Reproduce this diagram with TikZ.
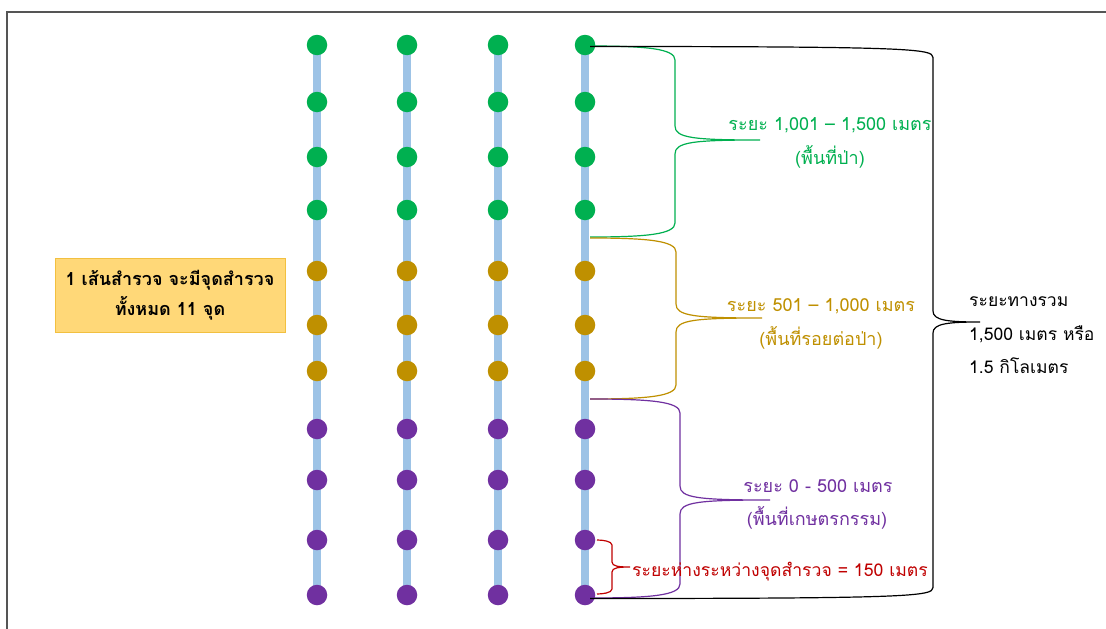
\documentclass[tikz,border=0pt]{standalone}
\usepackage{fontspec}
\setmainfont[Script=Thai]{Loma}
\usetikzlibrary{backgrounds}
\definecolor{tgreen}{HTML}{00B050}
\definecolor{tgold}{HTML}{BF9000}
\definecolor{tpurple}{HTML}{7030A0}
\definecolor{tred}{HTML}{C00000}
\definecolor{trail}{HTML}{9DC3E6}
\definecolor{tframe}{HTML}{555555}
\definecolor{boxfill}{HTML}{FFD878}
\definecolor{boxline}{HTML}{F2C040}
% brace: color, x0, y0, y1, xv, xtip, ymid, r
\newcommand\mybrace[8]{%
\draw[bracestyle,#1] (#2,#3) .. controls ({#5-2*#8},#3) and (#5,{#3+0.2*#8}) .. (#5,{#3+#8})
  -- (#5,{#7-#8}) .. controls (#5,{#7-0.15*#8}) and ({#5+1.3*#8},#7) .. (#6,#7)
  .. controls ({#5+1.3*#8},#7) and (#5,{#7+0.15*#8}) .. (#5,{#7+#8})
  -- (#5,{#4-#8}) .. controls (#5,{#4-0.2*#8}) and ({#5-2*#8},#4) .. (#2,#4);}
\begin{document}
\begin{tikzpicture}[x=1pt,y=-1pt,
  dot/.style={circle,inner sep=0pt,minimum size=20.5pt},
  rail/.style={trail,line width=8pt},
  bracestyle/.style={line width=1.2pt},
  lbl/.style={font=\fontsize{18}{22}\selectfont,inner sep=0pt,align=center},
  blk/.style={font=\fontsize{17.5}{22}\selectfont,inner sep=0pt,anchor=west}]
\useasboundingbox (0,0) rectangle (1106,629);
\begin{pgfonlayer}{background}
\fill[white] (0,0) rectangle (1106,629);
\end{pgfonlayer}
\draw[tframe,line width=1.5pt] (7,629) -- (7,12) -- (1106,12);

% survey lines
\foreach \c/\x in {1/317,2/407,3/498,4/585}{
  \foreach \r/\y/\col in {1/45/tgreen,2/102/tgreen,3/157/tgreen,4/210/tgreen,
      5/271/tgold,6/325/tgold,7/371/tgold,
      8/429/tpurple,9/480/tpurple,10/540/tpurple,11/595/tpurple}{
    \node[dot,fill=\col] (d\c-\r) at (\x,\y) {};
  }
  \begin{pgfonlayer}{background}
  \draw[rail] (d\c-1.center) -- (d\c-11.center);
  \end{pgfonlayer}
}

% braces
\mybrace{tgreen}{590}{46}{237}{675}{760}{140}{14}
\mybrace{tgold}{590}{238}{399}{676}{762}{318}{14}
\mybrace{tpurple}{590}{399}{598}{680}{770}{500}{14}
\mybrace{black}{590}{46.5}{598.5}{933}{980}{322}{11}
\mybrace{tred}{597}{540}{594}{612}{630}{567}{5}

% labels
\node[lbl,tgreen] (g1) at (830,125) {ระยะ 1,001 – 1,500 เมตร};
\node[lbl,tgreen] (g2) at (830,157) {(พื้นที่ป่า)};
\node[lbl,tgold] (o1) at (821,306) {ระยะ 501 – 1,000 เมตร};
\node[lbl,tgold] (o2) at (821,338) {(พื้นที่รอยต่อป่า)};
\node[lbl,tpurple] (p1) at (818,486) {ระยะ 0 - 500 เมตร};
\node[lbl,tpurple] (p2) at (817,518) {(พื้นที่เกษตรกรรม)};
\node[lbl,tred,anchor=west,font=\fontsize{17.6}{22}\selectfont] (r1) at (632,572) {ระยะห่างระหว่างจุดสำรวจ = 150 เมตร};
\node[blk] (t1) at (969,302) {ระยะทางรวม};
\node[blk] (t2) at (969,334) {1,500 เมตร หรือ};
\node[blk] (t3) at (969,366) {1.5 กิโลเมตร};

% info box
\node[draw=boxline,fill=boxfill,line width=1pt,minimum width=230pt,minimum height=74pt,
  align=center,font=\bfseries\fontsize{18}{30}\selectfont] (box) at (170,295)
  {1 เส้นสำรวจ จะมีจุดสำรวจ\\ทั้งหมด 11 จุด};
\end{tikzpicture}
\end{document}
